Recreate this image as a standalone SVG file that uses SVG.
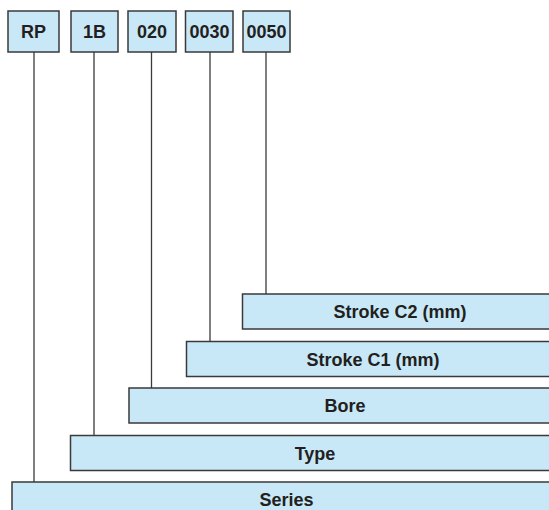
<svg xmlns="http://www.w3.org/2000/svg" width="549" height="510" viewBox="0 0 549 510">
<style>
.b{fill:#c8e8f7;stroke:#3a3a3a;stroke-width:1.5}
.t{font-family:"Liberation Sans",Arial,sans-serif;font-weight:bold;font-size:18px;fill:#231f20;text-anchor:middle}
.c{stroke:#3a3a3a;stroke-width:1.3;fill:none}
</style>
<rect width="549" height="510" fill="#fff"/>
<g id="connectors">
<line class="c" x1="34" y1="52" x2="34" y2="482"/>
<line class="c" x1="94" y1="52" x2="94" y2="435"/>
<line class="c" x1="151.5" y1="52" x2="151.5" y2="388"/>
<line class="c" x1="210" y1="52" x2="210" y2="341"/>
<line class="c" x1="266" y1="52" x2="266" y2="294"/>
</g>
<g id="code-rp"><rect class="b" x="8" y="11" width="51" height="41"/><text class="t" x="33.5" y="38">RP</text></g>
<g id="code-1b"><rect class="b" x="71" y="11" width="47" height="41"/><text class="t" x="94.5" y="38">1B</text></g>
<g id="code-020"><rect class="b" x="128" y="11" width="48" height="41"/><text class="t" x="152" y="38">020</text></g>
<g id="code-0030"><rect class="b" x="185.5" y="11" width="47.5" height="41"/><text class="t" x="209.5" y="38">0030</text></g>
<g id="code-0050"><rect class="b" x="243" y="11" width="47" height="41"/><text class="t" x="266.5" y="38">0050</text></g>
<g id="stroke-c2"><rect class="b" x="242.5" y="294" width="320" height="35"/><text class="t" x="400" y="318">Stroke C2 (mm)</text></g>
<g id="stroke-c1"><rect class="b" x="186.5" y="341.5" width="376" height="35"/><text class="t" x="373" y="365.5">Stroke C1 (mm)</text></g>
<g id="bore"><rect class="b" x="129" y="388" width="434" height="35"/><text class="t" x="345" y="412">Bore</text></g>
<g id="type"><rect class="b" x="70.5" y="435.5" width="492" height="35"/><text class="t" x="315" y="459.5">Type</text></g>
<g id="series"><rect class="b" x="12" y="482" width="551" height="40"/><text class="t" x="286.5" y="506">Series</text></g>
</svg>
